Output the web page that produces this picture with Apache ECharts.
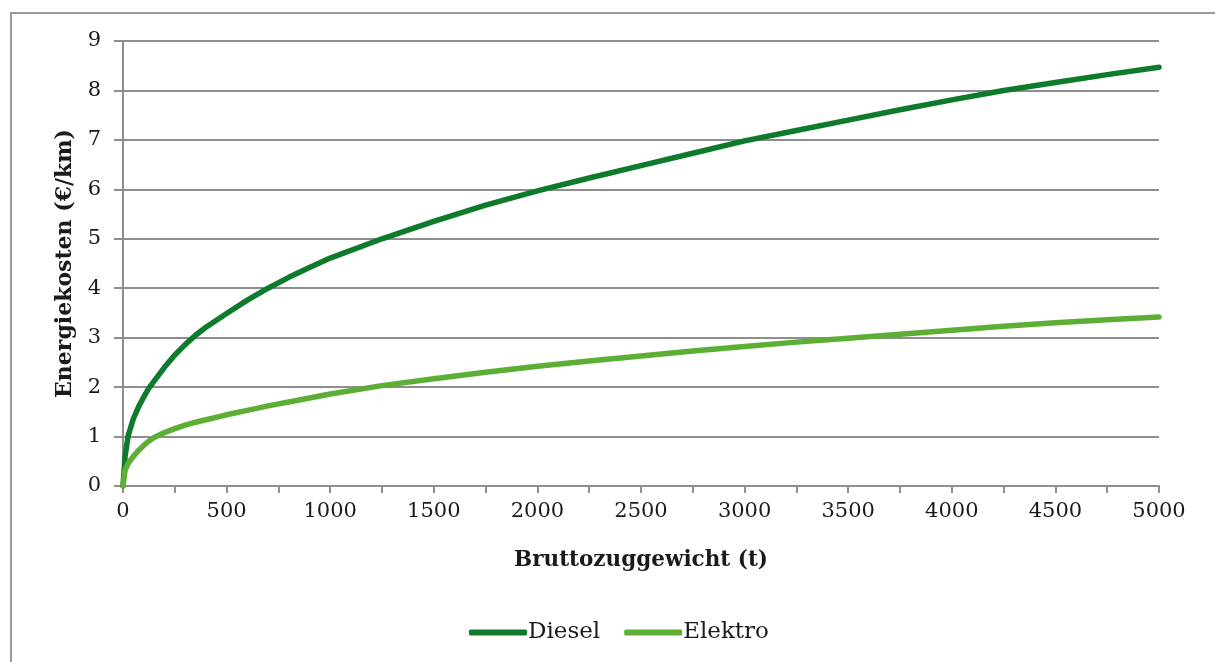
<!DOCTYPE html>
<html>
<head>
<meta charset="utf-8">
<script src="https://cdn.jsdelivr.net/npm/echarts@6/dist/echarts.min.js"></script>
<style>
  html, body { margin: 0; padding: 0; background: #fff; }
  #chart { width: 1215px; height: 662px; }
</style>
</head>
<body>
<div id="chart"></div>
<script>
// Gross train weight (t) at which the energy costs are sampled
const weights = [0, 10, 25, 50, 75, 100, 125, 150, 200, 250, 300, 350, 400, 500, 600, 700,
  800, 900, 1000, 1250, 1500, 1750, 2000, 2250, 2500, 2750, 3000, 3250, 3500, 3750,
  4000, 4250, 4500, 4750, 5000];

// Energy cost per km, diesel traction (€/km)
const diesel = [0, 0.6, 1.02, 1.36, 1.6, 1.8, 1.98, 2.12, 2.4, 2.65, 2.86, 3.05, 3.21, 3.49, 3.76, 4.0,
  4.22, 4.42, 4.61, 5.0, 5.35, 5.68, 5.97, 6.23, 6.48, 6.73, 6.98, 7.19, 7.4, 7.61,
  7.81, 8.0, 8.16, 8.32, 8.47];

// Energy cost per km, electric traction (€/km)
const elektro = [0, 0.32, 0.46, 0.6, 0.72, 0.82, 0.91, 0.98, 1.08, 1.16, 1.23, 1.29, 1.34, 1.44, 1.53, 1.62,
  1.7, 1.78, 1.86, 2.03, 2.17, 2.3, 2.42, 2.53, 2.63, 2.73, 2.82, 2.91, 2.99, 3.07,
  3.15, 3.23, 3.3, 3.36, 3.42];

const seriesNames = ['Diesel', 'Elektro'];
const seriesColors = ['#0e7a2c', '#5cae34'];

const xMax = 5000, xStep = 250, xLabelStep = 500;
const yMax = 9, yStep = 1;

const pairs = (ys) => weights.map((w, i) => [w, ys[i]]);

const font = '"DejaVu Serif", "Liberation Serif", serif';
const gridColor = '#8e8e8e';

const chart = echarts.init(document.getElementById('chart'), null, { renderer: 'canvas' });

chart.setOption({
  backgroundColor: '#ffffff',
  animation: false,
  graphic: [{
    type: 'polyline',
    shape: { points: [[11, 700], [11, 13], [1300, 13]] },
    style: { stroke: '#9a9a9a', lineWidth: 2, fill: null },
    silent: true
  }],
  grid: { left: 123, right: 56, top: 41, bottom: 176, containLabel: false },
  xAxis: {
    type: 'value',
    min: 0,
    max: xMax,
    interval: xStep,
    name: 'Bruttozuggewicht (t)',
    nameLocation: 'middle',
    nameGap: 63,
    nameTextStyle: { fontFamily: font, fontWeight: 'bold', fontSize: 21.5, color: '#1a1a1a' },
    axisLine: { show: true, onZero: false, lineStyle: { color: gridColor, width: 2 } },
    axisTick: { show: true, length: 7, lineStyle: { color: gridColor, width: 2 } },
    axisLabel: {
      fontFamily: font, fontSize: 21, color: '#1a1a1a', margin: 15,
      formatter: (v) => (v % xLabelStep === 0 ? String(v) : '')
    },
    splitLine: { show: false }
  },
  yAxis: {
    type: 'value',
    min: 0,
    max: yMax,
    interval: yStep,
    name: 'Energiekosten (€/km)',
    nameLocation: 'middle',
    nameGap: 47,
    nameTextStyle: { fontFamily: font, fontWeight: 'bold', fontSize: 22, color: '#1a1a1a' },
    axisLine: { show: true, lineStyle: { color: gridColor, width: 2 } },
    axisTick: { show: true, length: 9, lineStyle: { color: gridColor, width: 2 } },
    axisLabel: { fontFamily: font, fontSize: 21, color: '#1a1a1a', margin: 22 },
    splitLine: { show: true, lineStyle: { color: gridColor, width: 2 } }
  },
  legend: {
    bottom: 13,
    left: 464,
    itemWidth: 58,
    itemHeight: 6,
    itemGap: 24,
    icon: 'roundRect',
    textStyle: { fontFamily: font, fontSize: 23, color: '#1a1a1a', padding: [0, 0, 0, -4] },
    data: seriesNames
  },
  series: [
    {
      name: seriesNames[0],
      type: 'line',
      data: pairs(diesel),
      smooth: false,
      showSymbol: false,
      lineStyle: { color: seriesColors[0], width: 5.5, cap: 'round', join: 'round' },
      itemStyle: { color: seriesColors[0] }
    },
    {
      name: seriesNames[1],
      type: 'line',
      data: pairs(elektro),
      smooth: false,
      showSymbol: false,
      lineStyle: { color: seriesColors[1], width: 5.5, cap: 'round', join: 'round' },
      itemStyle: { color: seriesColors[1] }
    }
  ]
});
</script>
</body>
</html>
